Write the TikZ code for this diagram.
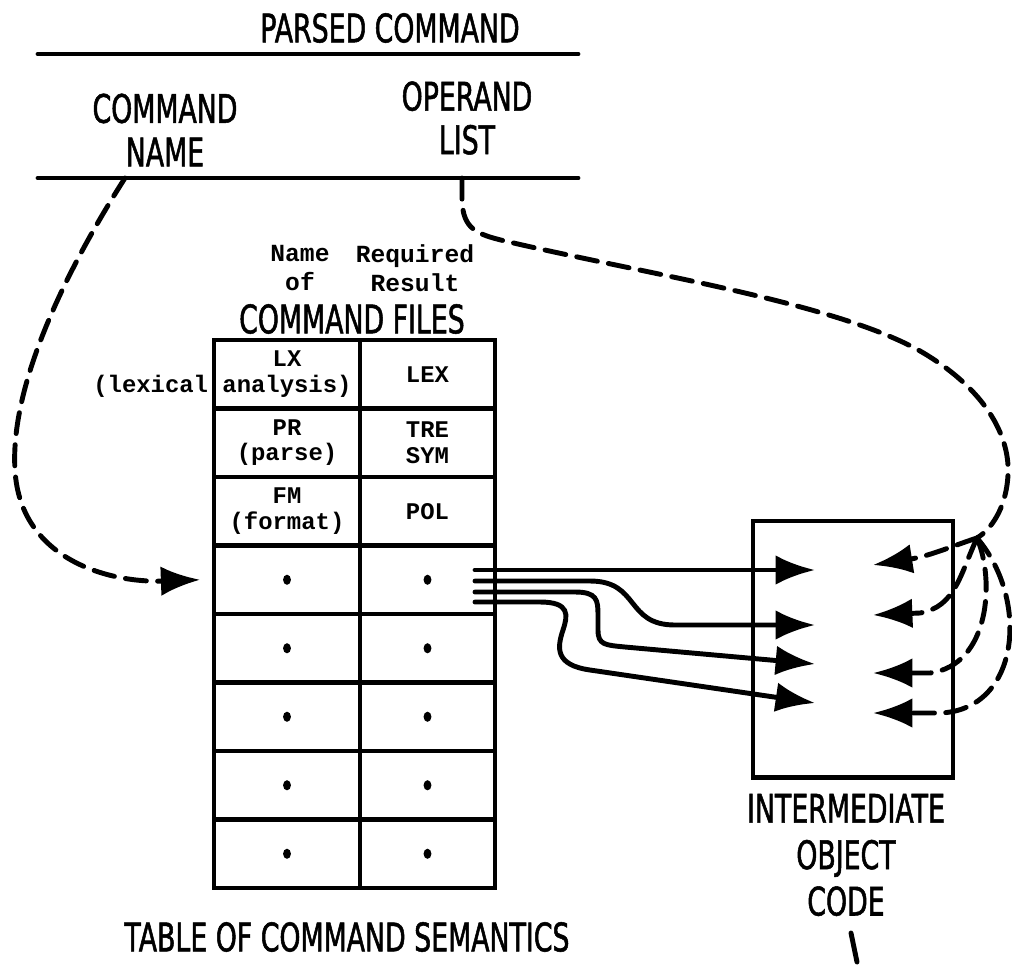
\documentclass[tikz,border=0pt]{standalone}
\usepackage{fontspec}
\setmainfont{DejaVu Sans}
\setmonofont{Liberation Mono}
\newfontfamily\capsfont[FakeStretch=0.68,FakeBold=1.3]{DejaVu Sans}
\usetikzlibrary{arrows.meta,positioning}

\begin{document}
\begin{tikzpicture}[
  x=0.025cm, y=-0.025cm,
  caps/.style={font=\capsfont\fontsize{28}{31}\selectfont,
               align=center, inner sep=0pt},
  hdr/.style={font=\ttfamily\bfseries\fontsize{17.5}{21}\selectfont,
              align=center, inner sep=0pt},
  lcell/.style={draw, line width=3.5pt, minimum width=3.65cm,
                minimum height=1.7125cm, inner sep=0pt, align=center,
                font=\ttfamily\bfseries\fontsize{17}{18}\selectfont},
  rcell/.style={lcell, minimum width=3.375cm},
  rule/.style={line width=3.5pt, line cap=round},
  sarr/.style={line width=3.5pt, line cap=round,
               -{Latex[length=28pt,width=21pt]}},
  darr/.style={sarr, dash pattern=on 15pt off 8pt},
]

  \useasboundingbox (0,0) rectangle (1012,969);

  \def\lc{287}
  \def\rc{427.5}

  % Parsed command header

  \node[caps] (parsed)  at (390,28)  {PARSED COMMAND};
  \draw[rule] (38,54) -- (578,54);
  \node[caps] (cmdname) at (165,130) {COMMAND\\NAME};
  \node[caps] (oplist)  at (467,118) {OPERAND\\LIST};
  \draw[rule] (38,178) -- (578,178);

  \coordinate (cmdtap) at (125,178);
  \coordinate (optap)  at (462,178);

  % Table of command semantics

  \node[hdr]  (nameof) at (300,268) {Name\\of};
  \node[hdr]  (reqres) at (415,268) {Required\\Result};
  \node[caps] (files)  at (352,319) {COMMAND FILES};

  \node[lcell] (lx)  at (\lc,374.25) {LX\\\llap{(lexical }analysis)};
  \node[rcell] (lex) at (\rc,374.25) {LEX};
  \node[lcell] (pr)  at (\lc,442.75) {PR\\(parse)};
  \node[rcell] (tre) at (\rc,442.75) {TRE\\SYM};
  \node[lcell] (fm)  at (\lc,511.25) {FM\\(format)};
  \node[rcell] (pol) at (\rc,511.25) {POL};

  \foreach \i/\y in {4/579.75, 5/648.25, 6/716.75, 7/785.25, 8/853.75} {
    \node[lcell] (l\i) at (\lc,\y) {};
    \node[rcell] (r\i) at (\rc,\y) {};
    \fill (l\i) ellipse (2.8pt and 3.6pt);
    \fill (r\i) ellipse (2.8pt and 3.6pt);
  }

  \node[caps] (tablbl) at (347,937) {TABLE OF COMMAND SEMANTICS};

  % Intermediate object code

  \node[draw, line width=3.5pt, minimum width=5cm, minimum height=6.4cm]
    (objbox) at (853,649) {};
  \node[caps, font=\capsfont\fontsize{28}{33}\selectfont]
    (objlbl) at (846,855) {INTERMEDIATE\\OBJECT\\CODE};
  \draw[rule] (851,933) -- (857,962);

  % Command name -> table entry

  \draw[darr] (cmdtap) .. controls (60,280) and (10,390) .. (15,470)
    .. controls (20,560) and (110,583) .. ([xshift=-8pt]l4.west);

  % Table entry -> object code

  \coordinate (s1) at (475,570);
  \coordinate (s2) at (475,581);
  \coordinate (s3) at (475,592);
  \coordinate (s4) at (475,602);
  \coordinate (in1) at (815,570);
  \coordinate (in2) at (815,625);
  \coordinate (in3) at (815,664);
  \coordinate (in4) at (815,703);

  \draw[sarr] (s1) -- (in1);
  \draw[sarr] (s2) -- (590,581) .. controls (640,581) and (625,625)
    .. (675,625) -- (in2);
  \draw[sarr] (s3) -- (575,592) .. controls (597,592) and (598,600)
    .. (598,615) -- (598,630) .. controls (598,645) and (605,645)
    .. (625,647) -- (in3);
  \draw[sarr] (s4) -- (540,602) .. controls (570,602) and (568,615)
    .. (563,630) .. controls (557,648) and (555,665) .. (590,670)
    -- (in4);

  % Operand list -> object code

  \coordinate (jn)   at (977,538);
  \coordinate (out1) at (873,565);
  \coordinate (out2) at (873,615);
  \coordinate (out3) at (873,673);
  \coordinate (out4) at (873,713);

  \draw[darr, -] (optap) -- (462,200) .. controls (463,228) and (475,234)
    .. (505,241) .. controls (650,275) and (850,305) .. (930,357)
    .. controls (990,395) and (1010,440) .. (1008,475)
    .. controls (1006,510) and (990,530) .. (jn);

  \draw[darr] (jn) .. controls (955,545) and (930,556) .. (out1);
  \draw[darr] (jn) .. controls (960,575) and (955,607) .. (920,613)
    -- (out2);
  \draw[darr] (jn) .. controls (995,580) and (990,665) .. (930,673)
    -- (out3);
  \draw[darr] (jn) .. controls (1030,600) and (1020,710) .. (940,713)
    -- (out4);

\end{tikzpicture}
\end{document}
